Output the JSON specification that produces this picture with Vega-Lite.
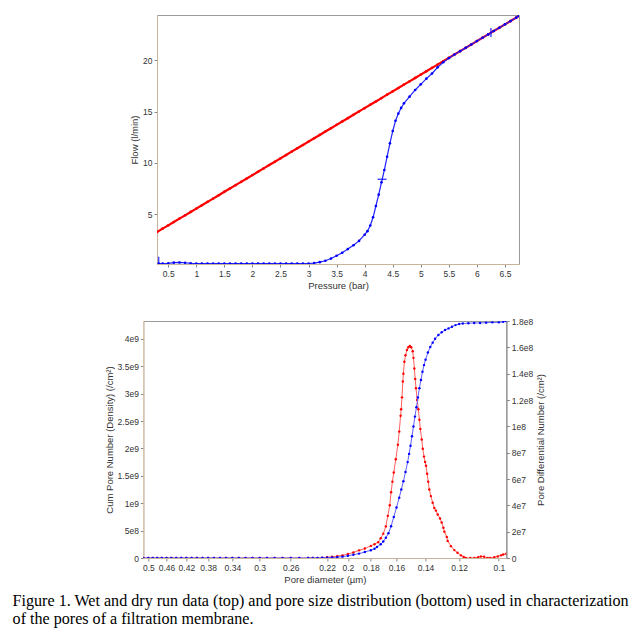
{
"$schema": "https://vega.github.io/schema/vega-lite/v6.json",
"background": "white",
"padding": {"left": 12, "top": 14, "right": 0, "bottom": 0},
"config": {
 "view": {"stroke": "#9a9a9a", "strokeWidth": 1},
 "axis": {"labelFont": "Liberation Sans", "labelFontSize": 8.5, "labelColor": "#333", "titleFont": "Liberation Sans", "titleFontSize": 9.5, "titleFontWeight": "normal", "titleColor": "#333", "tickColor": "#888", "tickSize": 3, "domainColor": "#c8b49b", "grid": false, "labelFlush": false, "labelOverlap": false, "labelPadding": 2, "titlePadding": 3}
},
"title": {"text": ["Figure 1. Wet and dry run data (top) and pore size distribution (bottom) used in characterization", "of the pores of a filtration membrane."], "orient": "bottom", "anchor": "start", "frame": "bounds", "font": "Liberation Serif", "fontSize": 16.1, "fontWeight": "normal", "color": "#000", "lineHeight": 18.5, "offset": 8, "dx": -91},
"datasets": {
 "dry": [
  {"p":0.3,"f":3.26},{"p":0.4,"f":3.59},{"p":0.5,"f":3.91},{"p":0.6,"f":4.24},{"p":0.7,"f":4.57},{"p":0.8,"f":4.89},{"p":0.9,"f":5.22},{"p":1.0,"f":5.54},{"p":1.1,"f":5.87},{"p":1.2,"f":6.2},{"p":1.3,"f":6.52},{"p":1.4,"f":6.85},{"p":1.5,"f":7.18},{"p":1.6,"f":7.5},{"p":1.7,"f":7.83},{"p":1.8,"f":8.15},{"p":1.9,"f":8.48},{"p":2.0,"f":8.81},{"p":2.1,"f":9.13},{"p":2.2,"f":9.46},{"p":2.3,"f":9.79},{"p":2.4,"f":10.11},{"p":2.5,"f":10.44},{"p":2.6,"f":10.76},{"p":2.7,"f":11.09},{"p":2.8,"f":11.42},{"p":2.9,"f":11.74},{"p":3.0,"f":12.07},{"p":3.1,"f":12.4},{"p":3.2,"f":12.72},{"p":3.3,"f":13.05},{"p":3.4,"f":13.37},{"p":3.5,"f":13.7},{"p":3.6,"f":14.03},{"p":3.7,"f":14.35},{"p":3.8,"f":14.68},{"p":3.9,"f":15.01},{"p":4.0,"f":15.33},{"p":4.1,"f":15.66},{"p":4.2,"f":15.98},{"p":4.3,"f":16.31},{"p":4.4,"f":16.64},{"p":4.5,"f":16.96},{"p":4.6,"f":17.29},{"p":4.7,"f":17.62},{"p":4.8,"f":17.94},{"p":4.9,"f":18.27},{"p":5.0,"f":18.59},{"p":5.1,"f":18.92},{"p":5.2,"f":19.25},{"p":5.3,"f":19.57},{"p":5.4,"f":19.9},{"p":5.5,"f":20.23},{"p":5.6,"f":20.55},{"p":5.7,"f":20.88},{"p":5.8,"f":21.2},{"p":5.9,"f":21.53},{"p":6.0,"f":21.86},{"p":6.1,"f":22.18},{"p":6.2,"f":22.51},{"p":6.3,"f":22.84},{"p":6.4,"f":23.16},{"p":6.5,"f":23.49},{"p":6.6,"f":23.81},{"p":6.7,"f":24.14},{"p":6.75,"f":24.3}
 ],
 "wet": [
  {"p":0.33,"f":0.2},{"p":0.4,"f":0.2},{"p":0.5,"f":0.22},{"p":0.6,"f":0.28},{"p":0.7,"f":0.3},{"p":0.8,"f":0.27},{"p":0.9,"f":0.22},{"p":1.0,"f":0.2},{"p":1.1,"f":0.2},{"p":1.2,"f":0.2},{"p":1.3,"f":0.2},{"p":1.4,"f":0.2},{"p":1.5,"f":0.2},{"p":1.6,"f":0.2},{"p":1.7,"f":0.2},{"p":1.8,"f":0.2},{"p":1.9,"f":0.2},{"p":2.0,"f":0.2},{"p":2.1,"f":0.2},{"p":2.2,"f":0.2},{"p":2.3,"f":0.2},{"p":2.4,"f":0.2},{"p":2.5,"f":0.2},{"p":2.6,"f":0.2},{"p":2.7,"f":0.2},{"p":2.8,"f":0.2},{"p":2.9,"f":0.2},{"p":3.0,"f":0.2},{"p":3.1,"f":0.24},{"p":3.2,"f":0.33},{"p":3.3,"f":0.47},{"p":3.4,"f":0.68},{"p":3.5,"f":0.95},{"p":3.6,"f":1.25},{"p":3.7,"f":1.6},{"p":3.8,"f":1.98},{"p":3.9,"f":2.4},{"p":4.0,"f":3.0},{"p":4.05,"f":3.35},{"p":4.1,"f":3.9},{"p":4.15,"f":4.7},{"p":4.2,"f":5.8},{"p":4.25,"f":6.9},{"p":4.3,"f":8.1},{"p":4.35,"f":9.3},{"p":4.4,"f":10.6},{"p":4.45,"f":11.9},{"p":4.5,"f":13.1},{"p":4.55,"f":14.1},{"p":4.6,"f":14.8},{"p":4.65,"f":15.35},{"p":4.7,"f":15.8},{"p":4.8,"f":16.45},{"p":4.9,"f":17.1},{"p":5.0,"f":17.65},{"p":5.1,"f":18.2},{"p":5.2,"f":18.7},{"p":5.3,"f":19.3},{"p":5.4,"f":19.8},{"p":5.5,"f":20.2},{"p":5.6,"f":20.55},{"p":5.7,"f":20.88},{"p":5.8,"f":21.2},{"p":5.9,"f":21.53},{"p":6.0,"f":21.86},{"p":6.1,"f":22.18},{"p":6.2,"f":22.51},{"p":6.3,"f":22.84},{"p":6.4,"f":23.16},{"p":6.5,"f":23.49},{"p":6.6,"f":23.81},{"p":6.7,"f":24.14},{"p":6.75,"f":24.3}
 ],
 "vmarks": [{"p":0.33,"f":0.52,"s":7},{"p":6.25,"f":22.7,"s":9}],
 "hmarks": [{"p":4.31,"f":8.4,"s":9}],
 "cum": [
  {"d":0.5116,"v":0},{"d":0.5,"v":0},{"d":0.49,"v":0},{"d":0.48,"v":0},{"d":0.47,"v":0},{"d":0.46,"v":0},{"d":0.45,"v":0},{"d":0.44,"v":0},{"d":0.43,"v":0},{"d":0.42,"v":0},{"d":0.41,"v":0},{"d":0.4,"v":0},{"d":0.39,"v":0},{"d":0.38,"v":0},{"d":0.37,"v":0},{"d":0.36,"v":0},{"d":0.35,"v":0},{"d":0.34,"v":0},{"d":0.33,"v":0},{"d":0.32,"v":0},{"d":0.31,"v":0},{"d":0.3,"v":0},{"d":0.29,"v":0},{"d":0.28,"v":0},{"d":0.27,"v":0},{"d":0.26,"v":0},{"d":0.25,"v":0},{"d":0.24,"v":0},{"d":0.235,"v":0},{"d":0.23,"v":0},{"d":0.225,"v":3e6},{"d":0.22,"v":5e6},{"d":0.215,"v":1e7},{"d":0.21,"v":1.5e7},{"d":0.205,"v":2.5e7},{"d":0.2,"v":4e7},{"d":0.195,"v":6e7},{"d":0.19,"v":8e7},{"d":0.185,"v":1.1e8},{"d":0.18,"v":1.4e8},{"d":0.177,"v":1.7e8},{"d":0.175,"v":2e8},{"d":0.172,"v":2.5e8},{"d":0.17,"v":3e8},{"d":0.168,"v":3.7e8},{"d":0.166,"v":4.5e8},{"d":0.164,"v":5.8e8},{"d":0.162,"v":7.5e8},{"d":0.16,"v":9.2e8},{"d":0.158,"v":1.1e9},{"d":0.1565,"v":1.25e9},{"d":0.155,"v":1.4e9},{"d":0.1535,"v":1.57e9},{"d":0.152,"v":1.75e9},{"d":0.151,"v":1.9e9},{"d":0.15,"v":2.05e9},{"d":0.149,"v":2.22e9},{"d":0.148,"v":2.4e9},{"d":0.147,"v":2.58e9},{"d":0.146,"v":2.75e9},{"d":0.145,"v":2.93e9},{"d":0.144,"v":3.1e9},{"d":0.143,"v":3.25e9},{"d":0.142,"v":3.4e9},{"d":0.141,"v":3.52e9},{"d":0.14,"v":3.62e9},{"d":0.1385,"v":3.75e9},{"d":0.137,"v":3.85e9},{"d":0.1355,"v":3.93e9},{"d":0.134,"v":4.0e9},{"d":0.132,"v":4.07e9},{"d":0.13,"v":4.12e9},{"d":0.128,"v":4.16e9},{"d":0.126,"v":4.19e9},{"d":0.124,"v":4.22e9},{"d":0.122,"v":4.25e9},{"d":0.12,"v":4.27e9},{"d":0.118,"v":4.28e9},{"d":0.115,"v":4.285e9},{"d":0.112,"v":4.29e9},{"d":0.109,"v":4.29e9},{"d":0.106,"v":4.295e9},{"d":0.103,"v":4.3e9},{"d":0.1,"v":4.3e9},{"d":0.098,"v":4.31e9},{"d":0.0966,"v":4.32e9}
 ],
 "diff": [
  {"d":0.5116,"v":0},{"d":0.5,"v":0},{"d":0.49,"v":0},{"d":0.48,"v":0},{"d":0.47,"v":0},{"d":0.46,"v":0},{"d":0.45,"v":0},{"d":0.44,"v":0},{"d":0.43,"v":0},{"d":0.42,"v":0},{"d":0.41,"v":0},{"d":0.4,"v":0},{"d":0.39,"v":0},{"d":0.38,"v":0},{"d":0.37,"v":0},{"d":0.36,"v":0},{"d":0.35,"v":0},{"d":0.34,"v":0},{"d":0.33,"v":0},{"d":0.32,"v":0},{"d":0.31,"v":0},{"d":0.3,"v":0},{"d":0.29,"v":0},{"d":0.28,"v":0},{"d":0.27,"v":0},{"d":0.26,"v":0},{"d":0.25,"v":0},{"d":0.24,"v":0},{"d":0.235,"v":0},{"d":0.23,"v":0},{"d":0.225,"v":3e5},{"d":0.22,"v":6e5},{"d":0.215,"v":1e6},{"d":0.21,"v":1.4e6},{"d":0.205,"v":2e6},{"d":0.2,"v":3e6},{"d":0.195,"v":4.2e6},{"d":0.19,"v":5.8e6},{"d":0.185,"v":7.2e6},{"d":0.18,"v":9.2e6},{"d":0.177,"v":1.05e7},{"d":0.174,"v":1.2e7},{"d":0.172,"v":1.5e7},{"d":0.17,"v":1.85e7},{"d":0.168,"v":2.4e7},{"d":0.1665,"v":3.2e7},{"d":0.165,"v":4e7},{"d":0.164,"v":5e7},{"d":0.163,"v":5.8e7},{"d":0.162,"v":6.5e7},{"d":0.1605,"v":7.5e7},{"d":0.159,"v":8.6e7},{"d":0.158,"v":9.6e7},{"d":0.157,"v":1.08e8},{"d":0.1566,"v":1.13e8},{"d":0.156,"v":1.22e8},{"d":0.1554,"v":1.34e8},{"d":0.155,"v":1.4e8},{"d":0.1543,"v":1.49e8},{"d":0.1535,"v":1.54e8},{"d":0.1525,"v":1.58e8},{"d":0.1515,"v":1.6e8},{"d":0.1505,"v":1.61e8},{"d":0.1495,"v":1.6e8},{"d":0.1485,"v":1.57e8},{"d":0.148,"v":1.52e8},{"d":0.1474,"v":1.44e8},{"d":0.1468,"v":1.36e8},{"d":0.1463,"v":1.29e8},{"d":0.1455,"v":1.2e8},{"d":0.1447,"v":1.13e8},{"d":0.144,"v":1.05e8},{"d":0.1434,"v":9.8e7},{"d":0.1425,"v":9e7},{"d":0.1418,"v":8.3e7},{"d":0.141,"v":7.7e7},{"d":0.1403,"v":7.3e7},{"d":0.1397,"v":7e7},{"d":0.139,"v":6.4e7},{"d":0.1383,"v":5.8e7},{"d":0.1376,"v":5.2e7},{"d":0.1366,"v":4.7e7},{"d":0.1355,"v":4.2e7},{"d":0.1345,"v":3.8e7},{"d":0.1335,"v":3.6e7},{"d":0.1324,"v":3.3e7},{"d":0.131,"v":3e7},{"d":0.13,"v":2.7e7},{"d":0.129,"v":2.3e7},{"d":0.1284,"v":2e7},{"d":0.127,"v":1.6e7},{"d":0.1265,"v":1.3e7},{"d":0.1246,"v":9e6},{"d":0.1227,"v":6e6},{"d":0.1209,"v":4e6},{"d":0.119,"v":2e6},{"d":0.1175,"v":8e5},{"d":0.1163,"v":0},{"d":0.114,"v":0},{"d":0.1119,"v":0},{"d":0.11,"v":5e5},{"d":0.1086,"v":1.2e6},{"d":0.107,"v":1e6},{"d":0.1053,"v":0},{"d":0.104,"v":0},{"d":0.1021,"v":5e5},{"d":0.1005,"v":1.2e6},{"d":0.099,"v":2e6},{"d":0.098,"v":2.7e6},{"d":0.0966,"v":3.3e6}
 ]
},
"spacing": 25,
"center": true,
"vconcat": [
 {
  "width": 362, "height": 249,
  "encoding": {
   "x": {"field": "p", "type": "quantitative", "scale": {"domain": [0.3, 6.75], "nice": false, "zero": false}, "axis": {"title": "Pressure (bar)", "values": [0.5,1,1.5,2,2.5,3,3.5,4,4.5,5,5.5,6,6.5], "format": "~g"}},
   "y": {"field": "f", "type": "quantitative", "scale": {"domain": [0.15, 24.4], "nice": false, "zero": false}}
  },
  "layer": [
   {
    "encoding": {"y": {"field": "f", "type": "quantitative", "axis": {"title": "Flow (l/min)", "values": [5,10,15,20]}}},
    "layer": [
     {"data": {"name": "dry"}, "mark": {"type": "line", "color": "#ff0000", "strokeWidth": 2.2, "clip": true, "point": {"filled": true, "size": 7, "color": "#ff0000"}}},
     {"data": {"name": "wet"}, "mark": {"type": "line", "color": "#2222ff", "strokeWidth": 1.2, "clip": true, "point": {"filled": true, "size": 7, "color": "#0000ff"}}},
     {"data": {"name": "vmarks"}, "mark": {"type": "tick", "orient": "vertical", "color": "#0000ff", "thickness": 1.5}, "encoding": {"size": {"field": "s", "type": "quantitative", "scale": null}}},
     {"data": {"name": "hmarks"}, "mark": {"type": "tick", "orient": "horizontal", "color": "#0000ff", "thickness": 1.5}, "encoding": {"size": {"field": "s", "type": "quantitative", "scale": null}}}
    ]
   },
   {
    "data": {"name": "hmarks"},
    "mark": {"type": "tick", "opacity": 0},
    "encoding": {"y": {"field": "f", "type": "quantitative", "axis": {"orient": "right", "title": " ", "labels": false, "ticks": false, "domain": false, "titlePadding": 2.5}}}
   }
  ],
  "resolve": {"axis": {"y": "independent"}}
 },
 {
  "width": 363, "height": 237,
  "encoding": {
   "x": {"field": "d", "type": "quantitative", "scale": {"type": "log", "domain": [0.0966, 0.5116], "reverse": true, "nice": false}, "axis": {"title": "Pore diameter  (µm)", "values": [0.5,0.46,0.42,0.38,0.34,0.3,0.26,0.22,0.2,0.18,0.16,0.14,0.12,0.1], "format": "~g"}}
  },
  "layer": [
   {"data": {"name": "diff"}, "mark": {"type": "line", "color": "#ff6060", "strokeWidth": 1, "clip": true, "point": {"filled": true, "size": 6, "color": "#ff0000"}},
    "encoding": {"y": {"field": "v", "type": "quantitative", "scale": {"domain": [0, 1.8e8], "nice": false}, "axis": {"orient": "right", "title": "Pore Differential Number (/cm²)", "titleAngle": 270, "titleBaseline": "top", "values": [0,2e7,4e7,6e7,8e7,1e8,1.2e8,1.4e8,1.6e8,1.8e8], "labelExpr": "datum.value == 0 ? '0' : replace(format(datum.value, '.2~e'), 'e+', 'e')", "domainColor": "#888"}}}},
   {"data": {"name": "cum"}, "mark": {"type": "line", "color": "#6060ff", "strokeWidth": 1, "clip": true, "point": {"filled": true, "size": 6, "color": "#0000ff"}},
    "encoding": {"y": {"field": "v", "type": "quantitative", "scale": {"domain": [0, 4.325e9], "nice": false}, "axis": {"orient": "left", "title": "Cum Pore Number (Density) (/cm²)", "values": [0,5e8,1e9,1.5e9,2e9,2.5e9,3e9,3.5e9,4e9], "labelExpr": "datum.value == 0 ? '0' : replace(format(datum.value, '.2~e'), 'e+', 'e')", "domainColor": "#e6c8a8"}}}}
  ],
  "resolve": {"scale": {"y": "independent"}}
 }
]
}
